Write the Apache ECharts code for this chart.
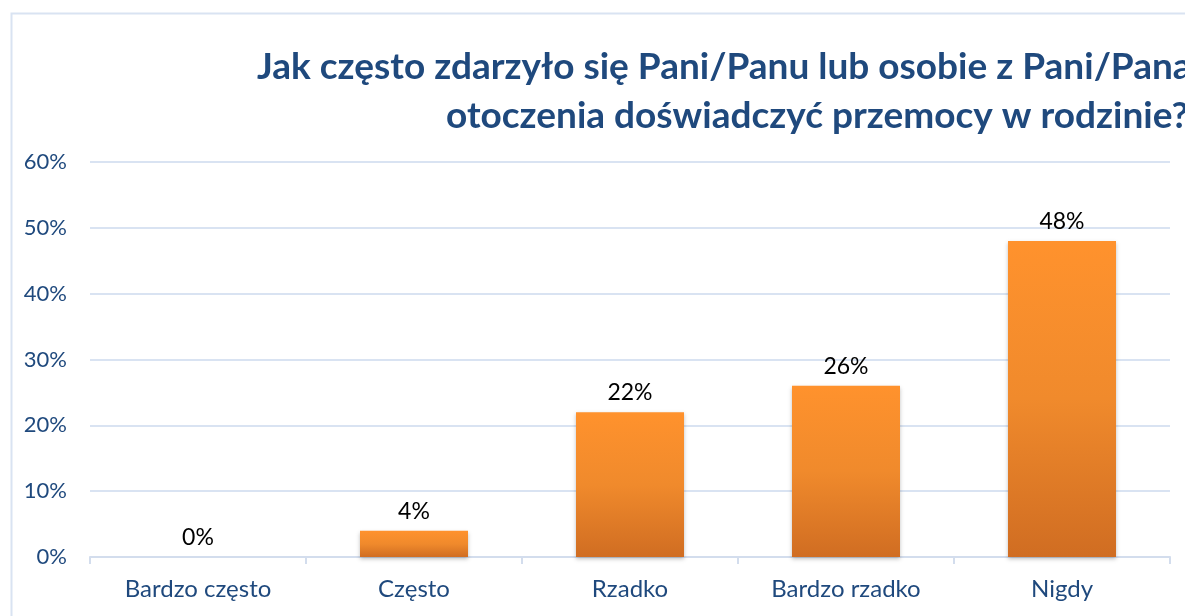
<!DOCTYPE html>
<html>
<head>
<meta charset="utf-8">
<script src="https://cdn.jsdelivr.net/npm/echarts@6/dist/echarts.min.js"></script>
<style>
  html, body { margin: 0; padding: 0; background: #fff; }
  #chart { width: 1185px; height: 616px; }
</style>
</head>
<body>
<div id="chart"></div>
<script>
const categories = ['Bardzo często', 'Często', 'Rzadko', 'Bardzo rzadko', 'Nigdy'];
const values = [0, 4, 22, 26, 48];
const titleLines = [
    'Jak często zdarzyło się Pani/Panu lub osobie z Pani/Pana',
    'otoczenia doświadczyć przemocy w rodzinie?'
];

const chart = echarts.init(document.getElementById('chart'));

const titleStyle = {
    color: '#1f497d',
    fontFamily: 'Lato',
    fontWeight: 'bold',
    fontSize: 37
};

chart.setOption({
    backgroundColor: '#fff',
    title: [
        { text: titleLines[0], left: 257, top: 49, padding: 0, textStyle: titleStyle },
        { text: titleLines[1], left: 446, top: 98, padding: 0, textStyle: titleStyle }
    ],
    graphic: [{
        type: 'rect',
        left: 9,
        top: 11,
        shape: { width: 1300, height: 700 },
        style: { fill: 'none', stroke: '#d9e3f2', lineWidth: 2 },
        silent: true
    }],
    grid: { left: 90, right: 15, top: 162, bottom: 59 },
    xAxis: {
        type: 'category',
        data: categories,
        axisLine: { lineStyle: { color: '#d3dded', width: 2 } },
        axisTick: { show: true, length: 7, lineStyle: { color: '#d3dded', width: 2 } },
        axisLabel: {
            color: '#1f497d',
            fontFamily: 'Lato',
            fontSize: 24,
            margin: 20
        }
    },
    yAxis: {
        type: 'value',
        min: 0,
        max: 60,
        interval: 10,
        axisLine: { show: false },
        axisTick: { show: false },
        splitLine: { lineStyle: { color: '#d9e3f2', width: 2 } },
        axisLabel: {
            formatter: '{value}%',
            color: '#1f497d',
            fontFamily: 'Lato',
            fontSize: 22,
            margin: 23
        }
    },
    series: [{
        type: 'bar',
        data: values,
        barWidth: '50%',
        itemStyle: {
            color: new echarts.graphic.LinearGradient(0, 0, 0, 1, [
                { offset: 0, color: '#ff922d' },
                { offset: 0.5, color: '#f08a2c' },
                { offset: 1, color: '#d06d22' }
            ]),
            shadowColor: 'rgba(0,0,0,0.25)',
            shadowBlur: 4,
            shadowOffsetY: 2
        },
        label: {
            show: true,
            position: 'top',
            distance: 8,
            formatter: '{c}%',
            color: '#000',
            fontFamily: 'Lato',
            fontSize: 23
        }
    }]
});
</script>
</body>
</html>
